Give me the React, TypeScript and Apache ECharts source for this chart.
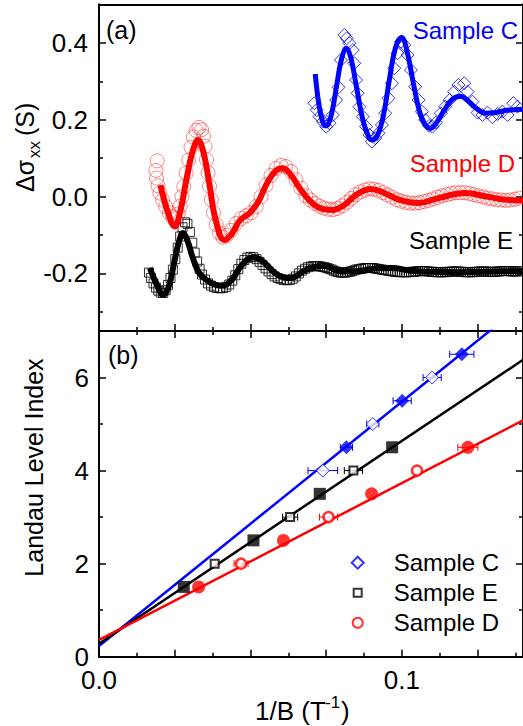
import React, { useEffect, useRef } from 'react';
import * as echarts from 'echarts';

const FONT = '"Liberation Sans", Arial, Helvetica, sans-serif';

// ---------- Panel (a): oscillations ----------
const sampleC_pts: number[][] = [
  [0.0711, 0.243], [0.0719, 0.2255], [0.0728, 0.208], [0.0739, 0.195], [0.0750, 0.182], [0.0761, 0.191],
  [0.0772, 0.2125], [0.0783, 0.2515], [0.0791, 0.2845], [0.0799, 0.3555], [0.0810, 0.4206], [0.0818, 0.412],
  [0.0827, 0.399], [0.0838, 0.3815], [0.0843, 0.347], [0.0849, 0.3035], [0.0854, 0.269], [0.0860, 0.234],
  [0.0871, 0.208], [0.0882, 0.182], [0.0893, 0.1605], [0.0901, 0.143], [0.0912, 0.152], [0.0923, 0.165],
  [0.0934, 0.1865], [0.0945, 0.217], [0.0956, 0.256], [0.0967, 0.295], [0.0975, 0.334], [0.0986, 0.373],
  [0.0997, 0.403], [0.1008, 0.3945], [0.1019, 0.3685], [0.1030, 0.3295], [0.1044, 0.286], [0.1055, 0.2515],
  [0.1066, 0.221], [0.1077, 0.1995], [0.1090, 0.184], [0.1101, 0.182], [0.1112, 0.1925], [0.1129, 0.217],
  [0.1143, 0.234], [0.1158, 0.2515], [0.1173, 0.273], [0.1187, 0.2905], [0.1206, 0.295], [0.1217, 0.273],
  [0.1233, 0.247], [0.1250, 0.2185], [0.1266, 0.2125], [0.1283, 0.2185], [0.1299, 0.2065], [0.1316, 0.215],
  [0.1332, 0.221], [0.1349, 0.2125], [0.1368, 0.243], [0.1382, 0.234],
];
const sampleC_fit: number[][] = [
  [0.0714, 0.319], [0.0722, 0.262], [0.0731, 0.218], [0.0740, 0.192], [0.0749, 0.184], [0.0758, 0.190],
  [0.0770, 0.222], [0.0785, 0.290], [0.0800, 0.355], [0.0817, 0.386], [0.0832, 0.360], [0.0848, 0.295],
  [0.0865, 0.222], [0.0882, 0.172], [0.0902, 0.147], [0.0920, 0.160], [0.0940, 0.215], [0.0960, 0.310],
  [0.0980, 0.390], [0.0999, 0.414], [0.1018, 0.375], [0.1038, 0.295], [0.1058, 0.222], [0.1076, 0.188],
  [0.1094, 0.178], [0.1115, 0.193], [0.1140, 0.225], [0.1165, 0.252], [0.1193, 0.261], [0.1220, 0.248],
  [0.1248, 0.228], [0.1275, 0.217], [0.1305, 0.218], [0.1340, 0.224], [0.1370, 0.226], [0.1400, 0.227],
];
const sampleD_pts: number[][] = [
  [0.0192, 0.093], [0.0188, 0.068], [0.0190, 0.048], [0.0195, 0.028], [0.0201, 0.009], [0.0210, -0.009],
  [0.0220, -0.026], [0.0232, -0.042], [0.0243, -0.053], [0.0253, -0.058], [0.0262, -0.045], [0.0268, -0.025],
  [0.0274, 0.000], [0.0280, 0.026], [0.0288, 0.061], [0.0296, 0.095], [0.0304, 0.128], [0.0312, 0.155],
  [0.0321, 0.172], [0.0330, 0.180], [0.0339, 0.174], [0.0345, 0.157], [0.0350, 0.131], [0.0355, 0.096],
  [0.0360, 0.062], [0.0365, 0.027], [0.0371, -0.008], [0.0378, -0.042], [0.0387, -0.073], [0.0398, -0.095],
  [0.0409, -0.106], [0.0422, -0.101], [0.0436, -0.088], [0.0453, -0.070], [0.0469, -0.057], [0.0486, -0.050],
  [0.0502, -0.042], [0.0519, -0.026], [0.0535, 0.000], [0.0552, 0.030], [0.0568, 0.055], [0.0585, 0.073],
  [0.0601, 0.081], [0.0617, 0.078], [0.0634, 0.065], [0.0650, 0.044], [0.0667, 0.022], [0.0683, 0.002],
  [0.0698, -0.009], [0.0713, -0.018], [0.0728, -0.025], [0.0743, -0.030], [0.0758, -0.033], [0.0773, -0.034],
  [0.0788, -0.031], [0.0803, -0.024], [0.0818, -0.015], [0.0833, -0.005], [0.0848, 0.005], [0.0863, 0.012],
  [0.0878, 0.017], [0.0893, 0.020], [0.0908, 0.019], [0.0923, 0.016], [0.0938, 0.010], [0.0953, 0.004],
  [0.0968, -0.002], [0.0983, -0.008], [0.0998, -0.012], [0.1013, -0.015], [0.1028, -0.017], [0.1043, -0.017],
  [0.1058, -0.016], [0.1073, -0.013], [0.1088, -0.010], [0.1103, -0.006], [0.1118, -0.002], [0.1133, 0.002],
  [0.1148, 0.005], [0.1163, 0.008], [0.1178, 0.010], [0.1193, 0.010], [0.1208, 0.010], [0.1223, 0.008],
  [0.1238, 0.005], [0.1253, 0.002], [0.1268, -0.001], [0.1283, -0.004], [0.1298, -0.006], [0.1313, -0.008],
  [0.1328, -0.009], [0.1343, -0.010], [0.1358, -0.009], [0.1373, -0.007], [0.1388, -0.004],
];
const sampleD_fit: number[][] = [
  [0.0203, 0.030], [0.0225, -0.035], [0.0250, -0.078], [0.0268, -0.040], [0.0290, 0.050], [0.0310, 0.120],
  [0.0327, 0.147], [0.0345, 0.115], [0.0365, 0.030], [0.0385, -0.060], [0.0414, -0.113], [0.0440, -0.095],
  [0.0465, -0.062], [0.0497, -0.043], [0.0525, -0.015], [0.0555, 0.035], [0.0585, 0.068], [0.0606, 0.074],
  [0.0630, 0.060], [0.0660, 0.025], [0.0694, -0.009], [0.0730, -0.030], [0.0771, -0.035], [0.0810, -0.022],
  [0.0850, 0.005], [0.0897, 0.020], [0.0940, 0.010], [0.0990, -0.008], [0.1056, -0.017], [0.1120, -0.004],
  [0.1210, 0.009], [0.1280, 0.000], [0.1340, -0.008], [0.1400, -0.010],
];
const sampleE_pts: number[][] = [
  [0.0165, -0.198], [0.0172, -0.212], [0.0180, -0.226], [0.0188, -0.237], [0.0196, -0.245], [0.0204, -0.250],
  [0.0212, -0.251], [0.0220, -0.244], [0.0228, -0.230], [0.0236, -0.212], [0.0244, -0.190], [0.0252, -0.163],
  [0.0260, -0.133], [0.0268, -0.104], [0.0276, -0.080], [0.0284, -0.067], [0.0292, -0.071], [0.0300, -0.092],
  [0.0308, -0.120], [0.0316, -0.146], [0.0324, -0.169], [0.0332, -0.188], [0.0340, -0.203], [0.0350, -0.216],
  [0.0360, -0.226], [0.0370, -0.232], [0.0380, -0.236], [0.0390, -0.238], [0.0400, -0.239], [0.0410, -0.238],
  [0.0420, -0.235], [0.0430, -0.229], [0.0440, -0.219], [0.0450, -0.205], [0.0460, -0.189], [0.0470, -0.175],
  [0.0480, -0.165], [0.0490, -0.159], [0.0500, -0.157], [0.0510, -0.158], [0.0520, -0.163], [0.0530, -0.170],
  [0.0540, -0.178], [0.0550, -0.187], [0.0560, -0.195], [0.0570, -0.202], [0.0580, -0.208], [0.0590, -0.212],
  [0.0600, -0.215], [0.0610, -0.217], [0.0620, -0.218], [0.0630, -0.217], [0.0640, -0.214], [0.0650, -0.208],
  [0.0660, -0.200], [0.0670, -0.193], [0.0680, -0.188], [0.0690, -0.184], [0.0700, -0.182], [0.0708, -0.181],
  [0.0715, -0.181], [0.0723, -0.181], [0.0730, -0.182], [0.0738, -0.183], [0.0745, -0.184], [0.0753, -0.186],
  [0.0760, -0.188], [0.0768, -0.190], [0.0775, -0.193], [0.0783, -0.195], [0.0790, -0.197], [0.0798, -0.198],
  [0.0805, -0.198], [0.0813, -0.198], [0.0820, -0.197], [0.0828, -0.196], [0.0835, -0.194], [0.0843, -0.192],
  [0.0850, -0.190], [0.0858, -0.189], [0.0865, -0.188], [0.0873, -0.187], [0.0880, -0.186], [0.0888, -0.186],
  [0.0895, -0.186], [0.0903, -0.186], [0.0910, -0.187], [0.0918, -0.188], [0.0925, -0.189], [0.0933, -0.190],
  [0.0940, -0.191], [0.0948, -0.192], [0.0955, -0.193], [0.0963, -0.194], [0.0970, -0.195], [0.0978, -0.196],
  [0.0985, -0.196], [0.0993, -0.197], [0.1000, -0.197], [0.1008, -0.197], [0.1015, -0.197], [0.1023, -0.197],
  [0.1030, -0.196], [0.1038, -0.196], [0.1045, -0.195], [0.1053, -0.195], [0.1060, -0.194], [0.1068, -0.194],
  [0.1075, -0.194], [0.1083, -0.195], [0.1090, -0.195], [0.1098, -0.196], [0.1105, -0.196], [0.1113, -0.197],
  [0.1120, -0.197], [0.1128, -0.197], [0.1135, -0.197], [0.1143, -0.197], [0.1150, -0.196], [0.1158, -0.196],
  [0.1165, -0.195], [0.1173, -0.195], [0.1180, -0.195], [0.1188, -0.195], [0.1195, -0.196], [0.1203, -0.196],
  [0.1210, -0.197], [0.1218, -0.197], [0.1225, -0.197], [0.1233, -0.197], [0.1240, -0.196], [0.1248, -0.196],
  [0.1255, -0.195], [0.1263, -0.195], [0.1270, -0.195], [0.1278, -0.195], [0.1285, -0.196], [0.1293, -0.196],
  [0.1300, -0.196], [0.1308, -0.196], [0.1315, -0.195], [0.1323, -0.195], [0.1330, -0.194], [0.1338, -0.194],
  [0.1345, -0.194], [0.1353, -0.194], [0.1360, -0.195], [0.1368, -0.195], [0.1375, -0.195], [0.1383, -0.195],
  [0.1390, -0.194],
];
const sampleE_fit: number[][] = [
  [0.0168, -0.186], [0.0190, -0.228], [0.0212, -0.256], [0.0230, -0.235], [0.0250, -0.165], [0.0265, -0.115],
  [0.0277, -0.095], [0.0290, -0.110], [0.0310, -0.160], [0.0330, -0.198], [0.0354, -0.217], [0.0385, -0.230],
  [0.0409, -0.232], [0.0440, -0.215], [0.0470, -0.180], [0.0508, -0.158], [0.0540, -0.168], [0.0575, -0.195],
  [0.0606, -0.210], [0.0635, -0.212], [0.0670, -0.197], [0.0705, -0.184], [0.0745, -0.181], [0.0800, -0.195],
  [0.0859, -0.194], [0.0910, -0.187], [0.0968, -0.186], [0.1030, -0.193], [0.1100, -0.196], [0.1200, -0.197],
  [0.1300, -0.195], [0.1400, -0.194],
];

// ---------- Panel (b): Landau level index ----------
const llC_open = [[0.0739, 4.0], [0.0904, 5.0], [0.1100, 6.0]];
const llC_filled = [[0.0817, 4.5], [0.1001, 5.5], [0.1198, 6.5]];
const llC_err = [[0.0739, 4.0, 0.0049], [0.0817, 4.5, 0.002], [0.0904, 5.0, 0.002], [0.1001, 5.5, 0.003], [0.1100, 6.0, 0.003], [0.1198, 6.5, 0.004]];
const llE_open = [[0.0382, 2.0], [0.0631, 3.0], [0.0840, 4.0]];
const llE_filled = [[0.0280, 1.5], [0.0510, 2.5], [0.0729, 3.5], [0.0968, 4.5]];
const llE_err = [[0.0631, 3.0, 0.0025], [0.0840, 4.0, 0.003]];
const llD_open = [[0.0469, 2.0], [0.0758, 3.0], [0.1050, 4.0]];
const llD_filled = [[0.0329, 1.5], [0.0609, 2.5], [0.0900, 3.5], [0.1218, 4.5]];
const llD_err = [[0.0469, 2.0, 0.0023], [0.0758, 3.0, 0.003], [0.1218, 4.5, 0.0033]];
const fitC = [[0, 0.23], [0.14, 7.58]];
const fitE = [[0, 0.28], [0.14, 6.38]];
const fitD = [[0, 0.36], [0.14, 5.08]];

// ---------- ticks ----------
const X_MAJOR = [0.025, 0.05, 0.075, 0.1, 0.125];
const X_MINOR = [0.0125, 0.0375, 0.0625, 0.0875, 0.1125, 0.1375];
const X_LABELS = [0, 0.1];
const YA_MAJOR = [-0.2, 0, 0.2, 0.4];
const YA_MINOR = [-0.3, -0.1, 0.1, 0.3];
const YB_MAJOR = [0, 2, 4, 6];
const YB_MINOR = [1, 3, 5, 7];

const BLUE = '#0000ff';
const RED = '#ff0000';
const BLACK = '#000000';

function mkAxis(grid: number, position: string, min: number, max: number, ticks: number[] | null, len: number,
  labels: number[] | null, fmt: (v: number) => string, margin: number, showLine = true) {
  return {
    type: 'value', gridIndex: grid, position, min, max,
    axisLine: { show: showLine, onZero: false, lineStyle: { color: '#000', width: 2 } },
    axisTick: ticks ? { show: true, inside: true, length: len, customValues: ticks, lineStyle: { color: '#000', width: 1.5 } } : { show: false },
    axisLabel: labels ? { show: true, customValues: labels, formatter: fmt, color: '#000', fontSize: 26, lineHeight: 20, fontFamily: FONT, margin } : { show: false },
    splitLine: { show: false },
    axisPointer: { show: false },
  };
}

const errRender = (color: string) => (params: any, api: any) => {
  const x = api.value(0), y = api.value(1), dx = api.value(2);
  const p1 = api.coord([x - dx, y]);
  const p2 = api.coord([x + dx, y]);
  const h = 3.5;
  const st = { stroke: color, lineWidth: 1 };
  return {
    type: 'group',
    children: [
      { type: 'line', shape: { x1: p1[0], y1: p1[1], x2: p2[0], y2: p2[1] }, style: st },
      { type: 'line', shape: { x1: p1[0], y1: p1[1] - h, x2: p1[0], y2: p1[1] + h }, style: st },
      { type: 'line', shape: { x1: p2[0], y1: p2[1] - h, x2: p2[0], y2: p2[1] + h }, style: st },
    ],
  };
};

function mkLegend(name: string, icon: string, size: number, cy: number) {
  return {
    show: true, data: [{ name, icon }], left: 356.7 - size / 2, top: cy - 12, orient: 'vertical',
    itemWidth: size, itemHeight: size, padding: 0, itemGap: 0, selectedMode: false,
    textStyle: { fontSize: 24, fontFamily: FONT, color: '#000', padding: [0, 0, 0, 31 - size / 2] },
  };
}

function txt(text: string, x: number, y: number, fill: string, size: number, align: string, extra: any = {}) {
  return { type: 'text', x, y, z: 100, ...extra, style: { text, fill, fontSize: size, fontFamily: FONT, align, verticalAlign: 'middle' } };
}

export default function App() {
  const ref = useRef<HTMLDivElement>(null);
  useEffect(() => {
    if (!ref.current) return;
    const chart = echarts.init(ref.current, null, { renderer: 'svg' });
    const f1 = (v: number) => v.toFixed(1);
    const f0 = (v: number) => String(v);
    const option: any = {
      animation: false,
      backgroundColor: '#fff',
      grid: [
        { left: 99, top: 4.5, width: 426, height: 326.5 },
        { left: 99, top: 331, width: 426, height: 325.7 },
      ],
      xAxis: [
        mkAxis(0, 'bottom', 0, 0.14, X_MAJOR, 7, null, f1, 0),
        mkAxis(0, 'bottom', 0, 0.14, X_MINOR, 4, null, f1, 0),
        mkAxis(0, 'top', 0, 0.14, null, 0, null, f1, 0),
        mkAxis(1, 'bottom', 0, 0.14, X_MAJOR, 7, X_LABELS, f1, 13),
        mkAxis(1, 'bottom', 0, 0.14, X_MINOR, 4, null, f1, 0),
        mkAxis(1, 'top', 0, 0.14, X_MAJOR, 7, null, f1, 0),
        mkAxis(1, 'top', 0, 0.14, X_MINOR, 4, null, f1, 0),
      ],
      yAxis: [
        mkAxis(0, 'left', -0.35, 0.5, YA_MAJOR, 7, YA_MAJOR, f1, 11),
        mkAxis(0, 'left', -0.35, 0.5, YA_MINOR, 4, null, f1, 0),
        mkAxis(0, 'right', -0.35, 0.5, YA_MAJOR, 7, null, f1, 0),
        mkAxis(0, 'right', -0.35, 0.5, YA_MINOR, 4, null, f1, 0),
        mkAxis(1, 'left', 0, 7, YB_MAJOR, 7, YB_MAJOR, f0, 10),
        mkAxis(1, 'left', 0, 7, YB_MINOR, 4, null, f0, 0),
        mkAxis(1, 'right', 0, 7, YB_MAJOR, 7, null, f0, 0),
        mkAxis(1, 'right', 0, 7, YB_MINOR, 4, null, f0, 0),
      ],
      legend: [
        mkLegend('Sample C', 'diamond', 12, 562.7),
        mkLegend('Sample E', 'rect', 8, 592.7),
        mkLegend('Sample D', 'circle', 10, 622.7),
      ],
      graphic: [
        txt('(a)', 106, 30, '#000', 25, 'left'),
        txt('(b)', 108, 355, '#000', 25, 'left'),
        txt('Sample C', 518, 30, BLUE, 24, 'right'),
        txt('Sample D', 515, 163, RED, 24, 'right'),
        txt('Sample E', 513, 240, BLACK, 24, 'right'),
        {
          type: 'group', x: 25, y: 192, rotation: Math.PI / 2, z: 100,
          children: [
            { type: 'text', x: 0, y: 0, style: { text: 'Δσ', fill: '#000', fontSize: 25, fontFamily: FONT, align: 'left', verticalAlign: 'middle' } },
            { type: 'text', x: 34, y: 9, style: { text: 'xx', fill: '#000', fontSize: 17, fontFamily: FONT, align: 'left', verticalAlign: 'middle' } },
            { type: 'text', x: 56, y: 0, style: { text: '(S)', fill: '#000', fontSize: 25, fontFamily: FONT, align: 'left', verticalAlign: 'middle' } },
          ],
        },
        {
          type: 'group', x: 34, y: 467.5, rotation: Math.PI / 2, z: 100,
          children: [
            { type: 'text', x: 0, y: 0, style: { text: 'Landau Level Index', fill: '#000', fontSize: 25, fontFamily: FONT, align: 'center', verticalAlign: 'middle' } },
          ],
        },
        txt('1/B (T', 255, 711, '#000', 26, 'left'),
        txt('-1', 325, 702, '#000', 17, 'left'),
        txt(')', 341, 711, '#000', 26, 'left'),
      ],
      series: [
        // panel (a)
        { type: 'scatter', name: 'C data', xAxisIndex: 0, yAxisIndex: 0, data: sampleC_pts, symbol: 'diamond', symbolSize: 13,
          itemStyle: { color: 'rgba(0,0,0,0)', borderColor: BLUE, borderWidth: 1 }, z: 2 },
        { type: 'scatter', name: 'D data', xAxisIndex: 0, yAxisIndex: 0, data: sampleD_pts, symbol: 'circle', symbolSize: 14,
          itemStyle: { color: 'rgba(0,0,0,0)', borderColor: 'rgba(255,0,0,0.6)', borderWidth: 1 }, z: 2 },
        { type: 'scatter', name: 'E data', xAxisIndex: 0, yAxisIndex: 0, data: sampleE_pts, symbol: 'rect', symbolSize: 9,
          itemStyle: { color: 'rgba(0,0,0,0)', borderColor: BLACK, borderWidth: 1 }, z: 2 },
        { type: 'line', name: 'C fit', xAxisIndex: 0, yAxisIndex: 0, data: sampleC_fit, showSymbol: false, smooth: 0.4,
          lineStyle: { color: BLUE, width: 5 }, z: 3 },
        { type: 'line', name: 'D fit', xAxisIndex: 0, yAxisIndex: 0, data: sampleD_fit, showSymbol: false, smooth: 0.4,
          lineStyle: { color: RED, width: 6 }, z: 3 },
        { type: 'line', name: 'E fit', xAxisIndex: 0, yAxisIndex: 0, data: sampleE_fit, showSymbol: false, smooth: 0.4,
          lineStyle: { color: BLACK, width: 6 }, z: 3 },
        // panel (b) fits
        { type: 'line', name: 'C lin', xAxisIndex: 3, yAxisIndex: 4, data: fitC, showSymbol: false, lineStyle: { color: BLUE, width: 2.5 }, z: 2 },
        { type: 'line', name: 'E lin', xAxisIndex: 3, yAxisIndex: 4, data: fitE, showSymbol: false, lineStyle: { color: BLACK, width: 2.5 }, z: 2 },
        { type: 'line', name: 'D lin', xAxisIndex: 3, yAxisIndex: 4, data: fitD, showSymbol: false, lineStyle: { color: RED, width: 2.5 }, z: 2 },
        // error bars
        { type: 'custom', name: 'C err', xAxisIndex: 3, yAxisIndex: 4, data: llC_err, renderItem: errRender(BLUE), encode: { x: 0, y: 1 }, z: 3 },
        { type: 'custom', name: 'E err', xAxisIndex: 3, yAxisIndex: 4, data: llE_err, renderItem: errRender(BLACK), encode: { x: 0, y: 1 }, z: 3 },
        { type: 'custom', name: 'D err', xAxisIndex: 3, yAxisIndex: 4, data: llD_err, renderItem: errRender(RED), encode: { x: 0, y: 1 }, z: 3 },
        // points
        { type: 'scatter', name: 'Sample C', xAxisIndex: 3, yAxisIndex: 4, data: llC_open, symbol: 'diamond', symbolSize: 13,
          itemStyle: { color: '#ffffff', borderColor: BLUE, borderWidth: 1 }, z: 4 },
        { type: 'scatter', name: 'Sample E', xAxisIndex: 3, yAxisIndex: 4, data: llE_open, symbol: 'rect', symbolSize: 8,
          itemStyle: { color: '#ffffff', borderColor: BLACK, borderWidth: 2 }, z: 4 },
        { type: 'scatter', name: 'Sample D', xAxisIndex: 3, yAxisIndex: 4, data: llD_open, symbol: 'circle', symbolSize: 10,
          itemStyle: { color: '#ffffff', borderColor: RED, borderWidth: 2.5 }, z: 4 },
        { type: 'scatter', name: 'C filled', xAxisIndex: 3, yAxisIndex: 4, data: llC_filled, symbol: 'diamond', symbolSize: 14,
          itemStyle: { color: BLUE }, z: 4 },
        { type: 'scatter', name: 'E filled', xAxisIndex: 3, yAxisIndex: 4, data: llE_filled, symbol: 'rect', symbolSize: 12,
          itemStyle: { color: BLACK }, z: 4 },
        { type: 'scatter', name: 'D filled', xAxisIndex: 3, yAxisIndex: 4, data: llD_filled, symbol: 'circle', symbolSize: 13,
          itemStyle: { color: RED }, z: 4 },
      ],
    };
    chart.setOption(option);
    return () => chart.dispose();
  }, []);
  return <div ref={ref} style={{ position: 'fixed', left: 0, top: 0, width: 523, height: 726, background: '#fff' }} />;
}
